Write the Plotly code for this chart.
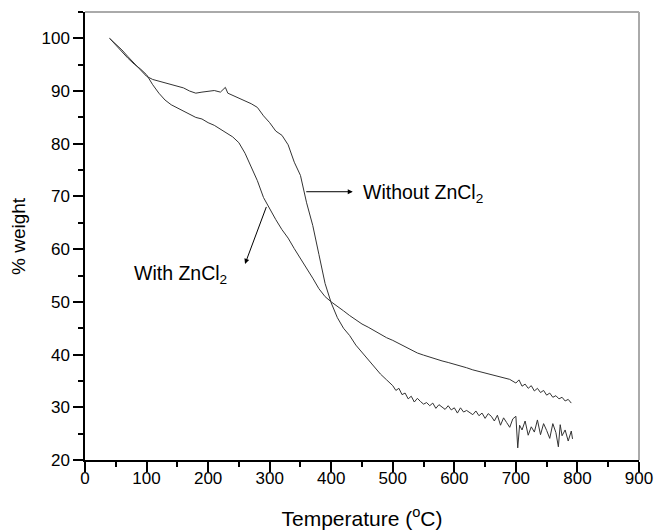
import plotly.graph_objects as go

# Without ZnCl2
t_without = [40, 50, 60, 70, 80, 90, 100, 110, 120, 130, 140, 150, 160, 170, 180, 190, 200, 210, 220, 228, 232,
             240, 250, 260, 270, 280, 290, 300, 310, 320, 330, 340, 350, 360, 370, 380, 390, 400, 410, 420, 430,
             440, 450, 460, 470, 480, 490, 500, 505, 510, 515, 520, 525, 530, 535, 540, 545, 550, 555, 560, 565,
             570, 575, 580, 585, 590, 595, 600, 605, 610, 615, 620, 625, 630, 635, 640, 645, 650, 655, 660, 665,
             670, 675, 680, 685, 690, 695, 700, 703, 706, 710, 715, 720, 725, 730, 735, 740, 745, 750, 755, 760,
             765, 769, 772, 775, 780, 785, 790, 792]
w_without = [100, 98.9, 97.8, 96.5, 95.2, 93.9, 92.8, 92.2, 91.9, 91.6, 91.2, 90.9, 90.6, 90.0, 89.6, 89.8, 89.9,
             90.1, 89.8, 90.7, 89.6, 89.2, 88.6, 88.2, 87.6, 86.9, 85.3, 84.0, 82.4, 81.6, 79.8, 76.5, 74.0, 68.8,
             64.5, 59.0, 53.5, 49.8, 47.0, 45.0, 43.6, 41.8, 40.4, 38.9, 37.6, 36.3, 35.2, 34.1, 33.2, 33.6, 32.4,
             32.7, 31.6, 32.1, 31.0, 31.7, 31.1, 30.6, 30.9, 30.3, 30.8, 29.8, 30.5, 30.1, 29.6, 30.3, 29.5, 29.9,
             28.9, 29.9, 29.1, 29.4, 29.0, 28.6, 29.3, 28.4, 28.9, 27.9, 28.8, 28.3, 27.4, 28.5, 26.6, 28.0, 27.1,
             26.2, 27.8, 28.3, 22.3, 26.6, 25.7, 27.4, 24.7, 26.3, 25.3, 27.6, 24.8, 26.9, 25.6, 24.1, 26.9, 25.2,
             22.5, 26.7, 24.6, 25.7, 23.6, 25.5, 24.0]

# With ZnCl2
t_with = [40, 50, 60, 70, 80, 90, 100, 110, 120, 130, 140, 150, 160, 170, 180, 190, 200, 210, 220, 230, 240, 250,
          260, 270, 280, 290, 300, 310, 320, 330, 340, 350, 360, 370, 380, 390, 400, 410, 420, 430, 440, 450, 460,
          470, 480, 490, 500, 510, 520, 530, 540, 550, 560, 570, 580, 590, 600, 610, 620, 630, 640, 650, 660, 670,
          680, 690, 700, 705, 710, 715, 720, 725, 730, 735, 740, 745, 750, 755, 760, 765, 770, 775, 780, 785, 790]
w_with = [100, 98.7, 97.4, 96.2, 95.1, 94.2, 93.1, 91.2, 89.6, 88.3, 87.4, 86.8, 86.2, 85.5, 85.0, 84.7, 84.0,
          83.5, 82.8, 82.1, 81.3, 80.2, 78.2, 75.6, 73.0, 69.8, 67.6, 65.6, 63.7, 62.1, 60.1, 58.3, 56.4, 54.5,
          52.5, 51.0, 50.0, 49.2, 48.3, 47.4, 46.6, 45.8, 45.2, 44.5, 43.8, 43.2, 42.7, 42.1, 41.4, 40.8, 40.3,
          39.9, 39.5, 39.2, 38.8, 38.5, 38.2, 37.9, 37.5, 37.1, 36.8, 36.5, 36.2, 35.9, 35.6, 35.3, 34.6, 35.2,
          34.0, 34.4, 33.6, 34.1, 33.1, 33.6, 32.8, 33.2, 32.3, 32.7, 31.9, 32.2, 31.6, 31.9, 31.2, 31.5, 30.8]

x_ticks = [0, 100, 200, 300, 400, 500, 600, 700, 800, 900]
y_ticks = [20, 30, 40, 50, 60, 70, 80, 90, 100]

font = "Liberation Sans, Arial, sans-serif"

fig = go.Figure()
fig.add_trace(go.Scatter(x=t_without, y=w_without, mode="lines",
                         line=dict(color="#333333", width=1), name="Without ZnCl2"))
fig.add_trace(go.Scatter(x=t_with, y=w_with, mode="lines",
                         line=dict(color="#333333", width=1), name="With ZnCl2"))

axis_common = dict(showgrid=False, zeroline=False, showline=True, linecolor="black", linewidth=1.5,
                   ticks="outside", ticklen=10, tickwidth=1.5, tickcolor="black", automargin=False,
                   tickfont=dict(family=font, size=17, color="black"))

fig.update_xaxes(range=[0, 900], tickvals=x_ticks, ticklabelstandoff=-8,
                 minor=dict(dtick=50, ticks="outside", ticklen=5, tickwidth=1.5, tickcolor="black"),
                 title=dict(text="Temperature (<sup>o</sup>C)", font=dict(family=font, size=21, color="black"),
                            standoff=24),
                 **axis_common)
fig.update_yaxes(range=[20, 105], tickvals=y_ticks,
                 minor=dict(dtick=5, ticks="outside", ticklen=5, tickwidth=1.5, tickcolor="black"),
                 **axis_common)

# y axis title
fig.add_annotation(x=0, y=0.5, xref="paper", yref="paper", xshift=-67, text="% weight", textangle=-90,
                   showarrow=False, xanchor="center", yanchor="middle",
                   font=dict(family=font, size=19, color="black"))

# top and right frame (grey)
fig.add_shape(type="line", xref="paper", yref="paper", x0=0, x1=1, y0=1, y1=1,
              line=dict(color="#aaaaaa", width=2))
fig.add_shape(type="line", xref="paper", yref="paper", x0=1, x1=1, y0=0, y1=1,
              line=dict(color="#aaaaaa", width=2))

fig.add_annotation(x=435, y=70.9, ax=357, ay=70.9, xref="x", yref="y", axref="x", ayref="y",
                   text="", showarrow=True, arrowhead=2, arrowsize=1, arrowwidth=1, arrowcolor="black")
fig.add_annotation(x=448, y=70.6, xref="x", yref="y", text="Without ZnCl<sub>2</sub>", showarrow=False,
                   xanchor="left", font=dict(family=font, size=19.5, color="black"))
fig.add_annotation(x=260, y=57.2, ax=295.5, ay=68.3, xref="x", yref="y", axref="x", ayref="y",
                   text="", showarrow=True, arrowhead=2, arrowsize=1, arrowwidth=1, arrowcolor="black")
fig.add_annotation(x=76, y=55.2, xref="x", yref="y", text="With ZnCl<sub>2</sub>", showarrow=False,
                   xanchor="left", font=dict(family=font, size=19.5, color="black"))

fig.update_layout(width=655, height=532, margin=dict(l=85, r=16, t=12, b=72),
                  plot_bgcolor="white", paper_bgcolor="white", showlegend=False)

fig.write_html("out.html", config={"displayModeBar": False},
               post_script="document.body.style.margin='0';")
